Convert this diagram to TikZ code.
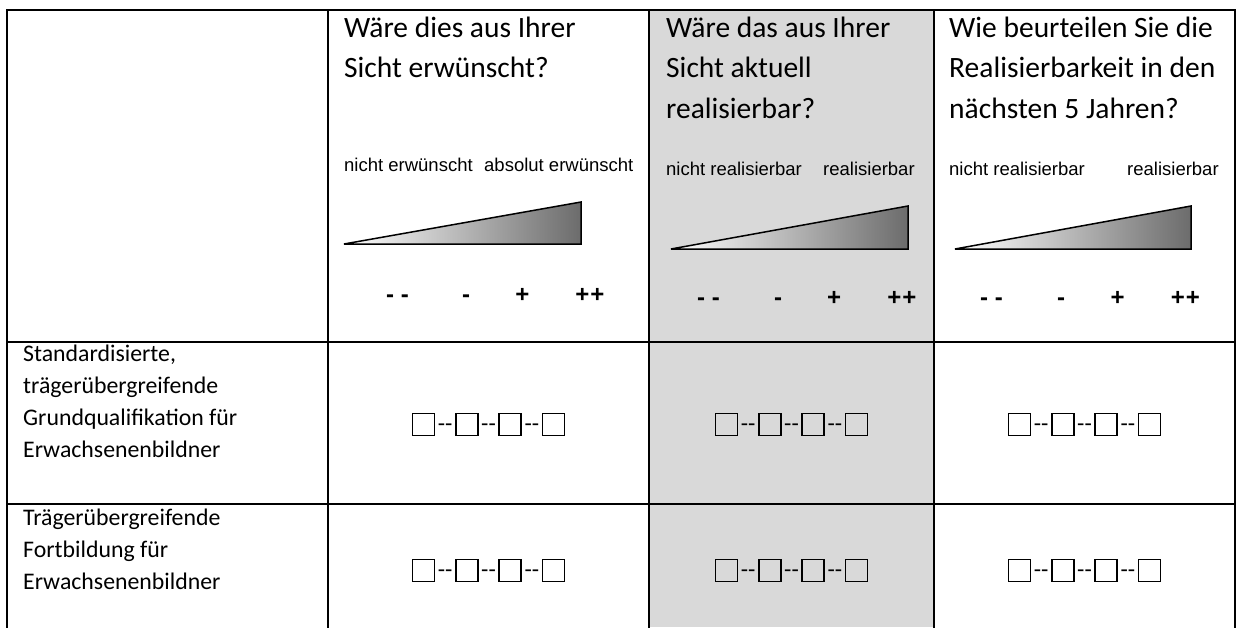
\documentclass[tikz,border=0pt]{standalone}
\usepackage{fontspec}
\setmainfont{Carlito}
\newfontfamily\arialf{Liberation Sans}
\definecolor{colgray}{RGB}{217,217,217}
\definecolor{wedgedark}{RGB}{108,108,108}
\begin{document}
\begin{tikzpicture}[x=1pt,y=-1pt,
  gridline/.style={line width=2pt, line cap=rect},
  head/.style={anchor=base west, inner sep=0pt, font=\fontsize{29.5}{36}\selectfont},
  lbl/.style={anchor=base west, inner sep=0pt, font=\fontsize{23.8}{30}\selectfont},
  scl/.style={anchor=base west, inner sep=0pt, font=\arialf\fontsize{18.5}{22}\selectfont},
  sgn/.style={anchor=base, inner sep=0pt, font=\arialf\bfseries\fontsize{24}{28}\selectfont},
  cbox/.style={draw, line width=1.6pt, minimum size=22pt, inner sep=0pt},
  dsh/.style={anchor=base, inner sep=0pt, font=\fontsize{23.8}{30}\selectfont},
  wedgefill/.style={left color=white, right color=wedgedark, draw=black, line width=1.5pt, line join=miter}
]
\useasboundingbox (0,0) rectangle (1237,627);
% grey column
\fill[colgray] (649,10) rectangle (934,627);
% grid
\foreach \gx in {7,328,649,934,1235}{\draw[gridline] (\gx,10) -- (\gx,627);}
\foreach \gy in {10,342,504}{\draw[gridline] (7,\gy) -- (1235,\gy);}
% header texts
\node[head] (h2a) at (344,37) {Wäre dies aus Ihrer};
\node[head] (h2b) at (344,77.5) {Sicht erwünscht?};
\node[head] (h3a) at (666,37) {Wäre das aus Ihrer};
\node[head] (h3b) at (666,77.5) {Sicht aktuell};
\node[head] (h3c) at (666,118) {realisierbar?};
\node[head] (h4a) at (949,37) {Wie beurteilen Sie die};
\node[head] (h4b) at (949,77.5) {Realisierbarkeit in den};
\node[head] (h4c) at (949,118) {nächsten 5 Jahren?};
% scale labels
\node[scl] (s2a) at (344,171) {nicht erwünscht};
\node[scl] (s2b) at (484,171) {absolut erwünscht};
\node[scl] (s3a) at (666,175) {nicht realisierbar};
\node[scl] (s3b) at (823,175) {realisierbar};
\node[scl] (s4a) at (949,175) {nicht realisierbar};
\node[scl] (s4b) at (1127,175) {realisierbar};
% wedges
\path[wedgefill] (344,244) -- (581,202) -- (581,244) -- cycle;
\path[wedgefill] (671,249) -- (908,206) -- (908,249) -- cycle;
\path[wedgefill] (955,249) -- (1191,206) -- (1191,249) -- cycle;
% signs
\node[sgn] (g2a) at (397.5,302) {-\ -};
\node[sgn] (g2b) at (466,302) {-};
\node[sgn] (g2c) at (522.5,302) {+};
\node[sgn] (g2d) at (590,302) {+\kern1pt+};
\node[sgn] (g3a) at (708.5,305) {-\ -};
\node[sgn] (g3b) at (778,305) {-};
\node[sgn] (g3c) at (834,305) {+};
\node[sgn] (g3d) at (902,305) {+\kern1pt+};
\node[sgn] (g4a) at (991.5,305) {-\ -};
\node[sgn] (g4b) at (1061,305) {-};
\node[sgn] (g4c) at (1117.5,305) {+};
\node[sgn] (g4d) at (1185.5,305) {+\kern1pt+};
% row labels
\node[lbl] (r1a) at (23,361) {Standardisierte,};
\node[lbl] (r1b) at (23,393) {trägerübergreifende};
\node[lbl] (r1c) at (23,425) {Grundqualifikation für};
\node[lbl] (r1d) at (23,457) {Erwachsenenbildner};
\node[lbl] (r2a) at (23,525) {Trägerübergreifende};
\node[lbl] (r2b) at (23,557) {Fortbildung für};
\node[lbl] (r2c) at (23,589) {Erwachsenenbildner};
% check boxes
\foreach \cx/\cn in {488.5/a,791.5/b,1084.5/c}{
  \foreach \ry/\rn in {424.5/p,570.5/q}{
    \foreach \i in {1,2,3,4}{\node[cbox] (box\cn\rn\i) at ({\cx+(\i-2.5)*43.33},\ry) {};}
    \foreach \i in {1,2,3}{\node[dsh] (dash\cn\rn\i) at ({\cx+(\i-2)*43.33},\ry+7) {-{}-};}
  }
}
\end{tikzpicture}
\end{document}
